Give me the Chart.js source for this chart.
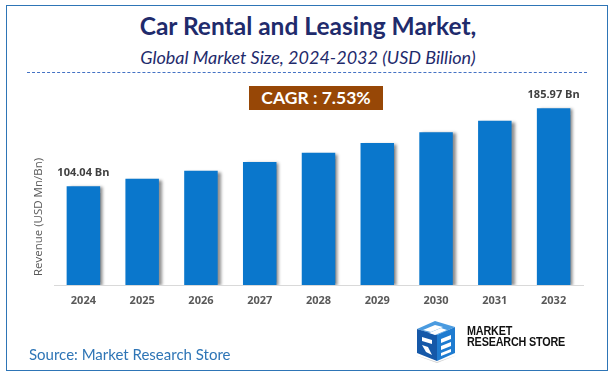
<!DOCTYPE html>
<html><head><meta charset="utf-8">
<script src="https://cdn.jsdelivr.net/npm/chart.js@4.4.1/dist/chart.umd.min.js"></script>
<style>
html,body{margin:0;padding:0;background:#fff;}
#wrap{position:relative;width:616px;height:380px;overflow:hidden;font-family:Lato,"Open Sans",sans-serif;}
#frame{position:absolute;left:6px;top:5px;width:600px;height:364px;border:1.5px solid #2E75B6;box-sizing:content-box;}
#title{position:absolute;left:0;width:616px;top:12px;text-align:center;font-weight:bold;font-size:24.5px;color:#1F2B6C;line-height:28px;}
#sub{position:absolute;left:0;width:616px;top:46px;text-align:center;font-style:italic;font-size:18px;color:#1F2B6C;line-height:22px;}
#dash{position:absolute;left:27px;width:560px;top:72px;border-top:1.3px dashed #4472C4;}
#cagr{position:absolute;left:249px;top:86px;width:134px;height:24px;background:#974706;color:#fff;font-weight:bold;font-size:17.5px;line-height:24px;text-align:center;}
#src{position:absolute;left:29px;top:344px;font-size:15px;color:#2E75B6;line-height:20px;}
#logo{position:absolute;left:413px;top:319px;}
#logotxt{position:absolute;left:467px;top:326px;font-family:"Liberation Sans Narrow","Liberation Sans",sans-serif;font-weight:bold;font-size:12px;line-height:10.5px;color:#111;letter-spacing:-0.2px;transform:scaleX(0.9);transform-origin:0 0;}
canvas{position:absolute;left:0;top:0;}
</style></head>
<body><div id="wrap">
<div id="frame"></div>
<div id="title">Car Rental and Leasing Market,</div>
<div id="sub">Global Market Size, 2024-2032 (USD Billion)</div>
<div id="dash"></div>
<canvas id="c" width="616" height="380"></canvas>
<div id="cagr">CAGR : 7.53%</div>
<div id="src">Source: Market Research Store</div>
<svg id="logo" width="46" height="44" viewBox="0 0 46 44">
<polygon points="4,10 22,2 42,8 24,16" fill="#4A9BE0"/>
<polygon points="4,10 24,16 24,42 4,34" fill="#1558A8"/>
<polygon points="24,16 42,8 42,34 24,42" fill="#1E7BD0"/>
<polygon points="10,11 22,6 30,8 18,13" fill="#fff"/>
<polygon points="16,14 28,9 34,11 22,16" fill="#fff"/>
<polygon points="9,18 19,21 19,25 9,22" fill="#fff"/>
<polygon points="9,26 15,28 19,36 13,33" fill="#fff"/>
<polygon points="28,20 38,16 38,20 28,24" fill="#fff"/>
<polygon points="28,27 38,23 38,27 28,31" fill="#fff"/>
<polygon points="28,34 38,30 38,33 28,37" fill="#fff"/>
<polygon points="2,36 24,44 44,36 24,43" fill="#888" opacity="0.4"/>
</svg>
<div id="logotxt">MARKET<br>RESEARCH STORE</div>
</div>
<script>
const categories = ["2024","2025","2026","2027","2028","2029","2030","2031","2032"];
const revenue = [104.04, 111.87, 120.30, 129.36, 139.10, 149.57, 160.83, 172.94, 185.97];
const valueLabels = ["104.04 Bn", "", "", "", "", "", "", "", "185.97 Bn"];
const yAxisTitle = "Revenue (USD Mn/Bn)";

const shadowPlugin = {
  id: 'shadow',
  beforeDatasetsDraw(chart){
    const ctx = chart.ctx;
    ctx.save();
    ctx.shadowColor = 'rgba(0,0,0,0.45)';
    ctx.shadowOffsetX = 3;
    ctx.shadowOffsetY = 1;
    ctx.shadowBlur = 3;
  },
  afterDatasetsDraw(chart){
    chart.ctx.restore();
    const ctx = chart.ctx;
    const meta = chart.getDatasetMeta(0);
    ctx.save();
    ctx.font = 'bold 11px "Open Sans", Lato, sans-serif';
    ctx.fillStyle = '#404040';
    ctx.textAlign = 'center';
    ctx.textBaseline = 'middle';
    meta.data.forEach((bar, i) => {
      if (valueLabels[i]) ctx.fillText(valueLabels[i], bar.x, bar.y - 13);
    });
    ctx.restore();
  },
  afterDraw(chart){
    const ctx = chart.ctx;
    const a = chart.chartArea;
    ctx.save();
    ctx.translate(a.left - 15, a.bottom - 68);
    ctx.rotate(-Math.PI/2);
    ctx.font = '11.5px "Open Sans", Lato, sans-serif';
    ctx.fillStyle = '#595959';
    ctx.textAlign = 'center';
    ctx.textBaseline = 'middle';
    ctx.fillText(yAxisTitle, 0, 0);
    ctx.restore();
  }
};

new Chart(document.getElementById('c'), {
  type: 'bar',
  data: {
    labels: categories,
    datasets: [{
      data: revenue,
      backgroundColor: '#0A77CC',
      borderWidth: 0,
      barPercentage: 0.57,
      categoryPercentage: 1.0
    }]
  },
  options: {
    responsive: false,
    animation: false,
    devicePixelRatio: 1,
    layout: { padding: { left: 54, right: 33, top: 95, bottom: 0 } },
    plugins: { legend: { display: false }, tooltip: { enabled: false }, title: { display: false } },
    scales: {
      x: {
        grid: { color: 'transparent', drawTicks: false },
        border: { display: true, color: '#D9D9D9', width: 1 },
        ticks: { color: '#595959', padding: 9, font: { family: '"Open Sans", Lato, sans-serif', weight: 'bold', size: 11 } },
        afterFit(scale){ scale.height = 95; }
      },
      y: {
        display: false,
        min: 0,
        max: 200
      }
    }
  },
  plugins: [shadowPlugin]
});
</script>
</body></html>
